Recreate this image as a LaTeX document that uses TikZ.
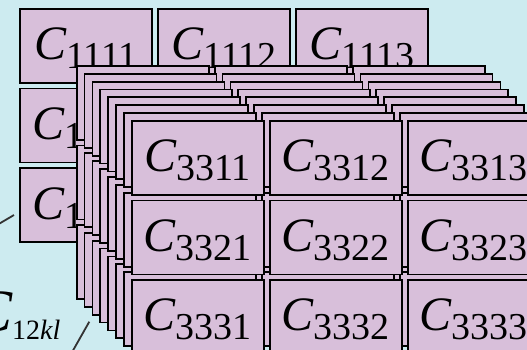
\documentclass[tikz,border=0pt]{standalone}
\usepackage{fontspec}
\setmainfont{Liberation Serif}
\usetikzlibrary{positioning}
\definecolor{slidebg}{HTML}{CDEBF0}
\definecolor{cellfill}{HTML}{D8BFDA}
\newcommand{\cellname}[1]{{\fontsize{48}{48}\selectfont\itshape C}\raisebox{-9pt}{\fontsize{38}{38}\selectfont #1}}
\begin{document}
\begin{tikzpicture}[
  x=1pt, y=-1pt,
  cell/.style={draw, fill=cellfill, line width=1.8pt, inner sep=0pt,
               minimum width=132pt, minimum height=74pt,
               text height=37pt, text depth=9pt},
  ptr/.style={draw=black!80, line width=1.8pt},
]
\fill[slidebg] (0,0) rectangle (527,350);
\useasboundingbox (0,0) rectangle (527,350);
\clip (0,0) rectangle (527,350);
\foreach \n/\ij in {1/11,2/12,3/13,4/21,5/22,6/23,7/31,8/32,9/33}{
  \ifnum\n=1 \def\ox{20}\def\oy{9}\else
    \pgfmathsetmacro\ox{76.7+(\n-2)*7.85}\pgfmathsetmacro\oy{66+(\n-2)*7.85}\fi
  \ifnum\n=1 \def\showit{1}\else\ifnum\n=9 \def\showit{1}\else\def\showit{0}\fi\fi
  \foreach \k in {1,2,3}
    \foreach \l in {1,2,3}
      \node[cell] (c\ij\k\l) at (\ox+66+\l*138-138, \oy+37+\k*79.5-79.5)
        {\ifnum\showit=1 \cellname{\ij\k\l}\fi};
}
\node[anchor=base west, inner sep=0pt] (lbl) at (-28,331)
  {{\fontsize{60}{60}\selectfont\itshape C}\raisebox{-8pt}{\fontsize{28}{28}\selectfont 12\textit{kl}}};
\coordinate (tailA) at (-20,235);
\coordinate (tipA) at (14,215);
\coordinate (tailB) at (67.6,360);
\coordinate (tipB) at (89.3,321.7);
\draw[ptr] (tailA) -- (tipA);
\draw[ptr] (tailB) -- (tipB);
\end{tikzpicture}
\end{document}
